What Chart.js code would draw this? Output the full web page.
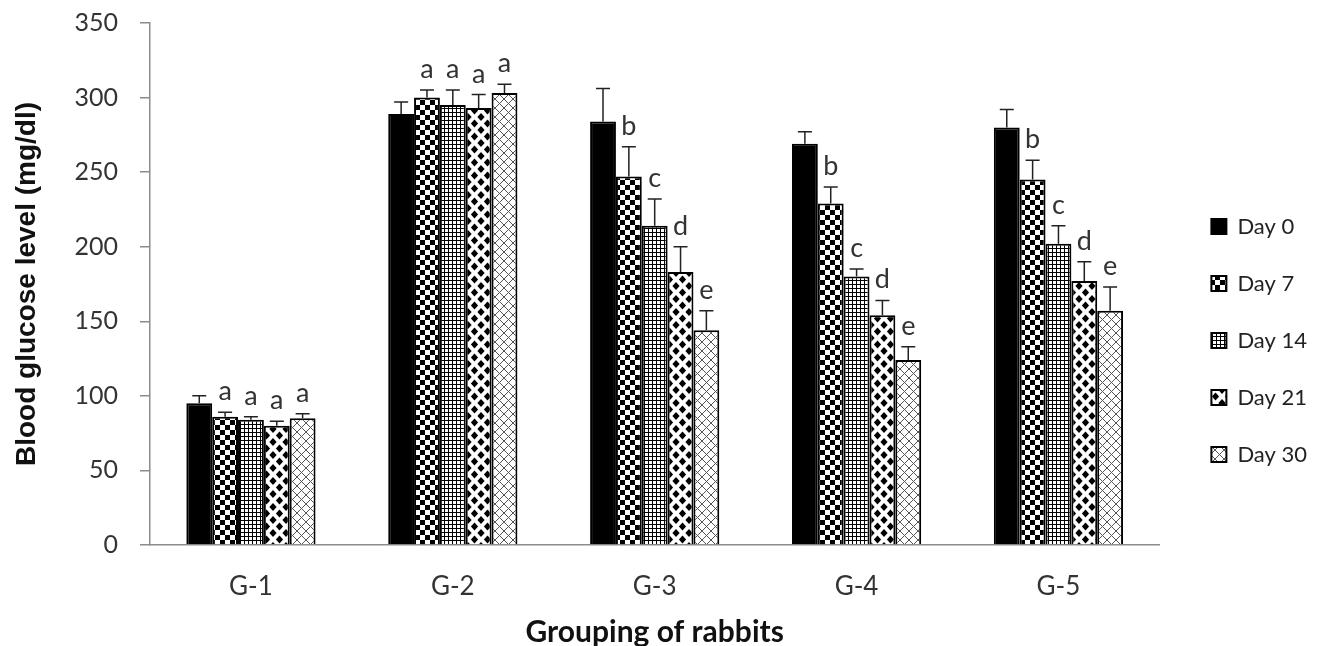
<!DOCTYPE html>
<html>
<head>
<meta charset="utf-8">
<script src="https://cdn.jsdelivr.net/npm/chart.js@4"></script>
<style>
html,body{margin:0;padding:0;background:#fff;}
#wrap{width:1325px;height:646px;position:relative;}
</style>
</head>
<body>
<div id="wrap"><canvas id="c"></canvas></div>
<script>
// ---- data ----
const categories = ['G-1', 'G-2', 'G-3', 'G-4', 'G-5'];
const seriesNames = ['Day 0', 'Day 7', 'Day 14', 'Day 21', 'Day 30'];
const day0  = [95, 289, 284, 269, 280];
const day7  = [86, 300, 247, 229, 245];
const day14 = [84, 295, 214, 180, 202];
const day21 = [80, 293, 183, 154, 177];
const day30 = [85, 303, 144, 124, 157];
const err0  = [5, 8, 22, 8, 12];
const err7  = [3, 5, 20, 11, 13];
const err14 = [2, 10, 18, 5, 12];
const err21 = [3, 9, 17, 10, 13];
const err30 = [3, 6, 13, 9, 16];
const let0  = ['', '', '', '', ''];
const let7  = ['a', 'a', 'b', 'b', 'b'];
const let14 = ['a', 'a', 'c', 'c', 'c'];
const let21 = ['a', 'a', 'd', 'd', 'd'];
const let30 = ['a', 'a', 'e', 'e', 'e'];
const yTicks = [0, 50, 100, 150, 200, 250, 300, 350];

const values = [day0, day7, day14, day21, day30];
const errors = [err0, err7, err14, err21, err30];
const letters = [let0, let7, let14, let21, let30];

// ---- patterns ----
function tile(w, h, draw) {
  const cv = document.createElement('canvas');
  cv.width = w; cv.height = h;
  const g = cv.getContext('2d');
  g.fillStyle = '#fff'; g.fillRect(0, 0, w, h);
  draw(g, w, h);
  return document.createElement('canvas').getContext('2d').createPattern(cv, 'repeat');
}
const patSolid = '#000';
const patChecker = tile(10, 10, (g) => {
  g.fillStyle = '#000';
  g.fillRect(0, 0, 5, 5); g.fillRect(5, 5, 5, 5);
});
const patGrid = tile(4, 4, (g) => {
  g.fillStyle = '#000';
  g.fillRect(0, 0, 4, 1); g.fillRect(0, 0, 1, 4);
});
const patDiamond = tile(13, 13, (g) => {
  g.fillStyle = '#000';
  const d = (cx, cy) => {
    g.beginPath();
    g.moveTo(cx, cy - 4); g.lineTo(cx + 3.6, cy); g.lineTo(cx, cy + 4); g.lineTo(cx - 3.6, cy);
    g.closePath(); g.fill();
  };
  d(6.5, 6.5); d(0, 0); d(13, 0); d(0, 13); d(13, 13);
});
const patCross = tile(9, 9, (g) => {
  g.strokeStyle = '#555'; g.lineWidth = 1;
  g.beginPath();
  g.moveTo(-1, -1); g.lineTo(10, 10);
  g.moveTo(10, -1); g.lineTo(-1, 10);
  g.stroke();
});
const fills = [patSolid, patChecker, patGrid, patDiamond, patCross];

// ---- error bars & letters plugin ----
const errPlugin = {
  id: 'errbars',
  afterDatasetsDraw(chart) {
    const ctx = chart.ctx;
    const ys = chart.scales.y;
    ctx.save();
    chart.data.datasets.forEach((ds, i) => {
      const meta = chart.getDatasetMeta(i);
      meta.data.forEach((bar, j) => {
        const v = values[i][j], e = errors[i][j];
        const y0 = ys.getPixelForValue(v);
        const y1 = ys.getPixelForValue(v + e);
        ctx.strokeStyle = '#222';
        ctx.lineWidth = 1.5;
        ctx.beginPath();
        ctx.moveTo(bar.x, y0); ctx.lineTo(bar.x, y1);
        ctx.moveTo(bar.x - 7, y1); ctx.lineTo(bar.x + 7, y1);
        ctx.stroke();
        const t = letters[i][j];
        if (t) {
          ctx.fillStyle = '#333';
          ctx.font = '27px Lato';
          ctx.textAlign = 'center';
          ctx.textBaseline = 'alphabetic';
          ctx.fillText(t, bar.x, y1 - 12);
        }
      });
    });
    ctx.restore();
  }
};

Chart.defaults.color = '#333';
Chart.defaults.font.family = 'Lato';

new Chart(document.getElementById('c'), {
  type: 'bar',
  data: {
    labels: categories,
    datasets: seriesNames.map((n, i) => ({
      label: n,
      data: values[i],
      backgroundColor: fills[i],
      borderColor: '#000',
      borderWidth: 2,
      categoryPercentage: 0.64,
      barPercentage: 1.0,
      yAxisID: 'y'
    }))
  },
  options: {
    responsive: true,
    maintainAspectRatio: false,
    animation: false,
    layout: { padding: { top: 23, right: 8, bottom: 0, left: 0 } },
    plugins: {
      tooltip: { enabled: false },
      legend: {
        position: 'right',
        title: { display: true, text: '', font: { size: 10 }, padding: 0 },
        labels: {
          boxWidth: 15, boxHeight: 15, padding: 35,
          color: '#222',
          font: { family: 'Lato', size: 22 }
        }
      }
    },
    scales: {
      x: {
        grid: { display: false },
        border: { display: true, color: '#8c8c8c', width: 1.5 },
        ticks: { font: { family: 'Lato', size: 26 }, color: '#333', padding: 18 },
        title: {
          display: true, text: 'Grouping of rabbits',
          font: { family: 'Lato', size: 30, weight: 'bold' }, color: '#111',
          padding: { top: 0, bottom: -4 }
        },
        afterFit(s) { s.height = 101; }
      },
      y: {
        min: 0, max: 350,
        afterBuildTicks(s) { s.ticks = yTicks.map(v => ({ value: v })); },
        grid: { display: true, drawOnChartArea: false, drawTicks: true, tickLength: 32,
                tickBorderDash: [10, 22], tickBorderDashOffset: 10, color: '#8c8c8c', lineWidth: 1.5 },
        border: { display: true, color: '#8c8c8c', width: 1.5 },
        ticks: { font: { family: 'Lato', size: 25 }, color: '#333', padding: 0 },
        title: {
          display: true, text: 'Blood glucose level (mg/dl)',
          font: { family: 'Liberation Sans', size: 28, weight: 'bold' }, color: '#111',
          padding: { top: 10, bottom: 0 }
        },
        afterFit(s) { s.width = 150; }
      },
      yR: {
        position: 'right', display: true,
        grid: { display: false }, border: { display: false },
        ticks: { display: false },
        afterFit(s) { s.width = 17; }
      }
    }
  },
  plugins: [errPlugin]
});
</script>
</body>
</html>
